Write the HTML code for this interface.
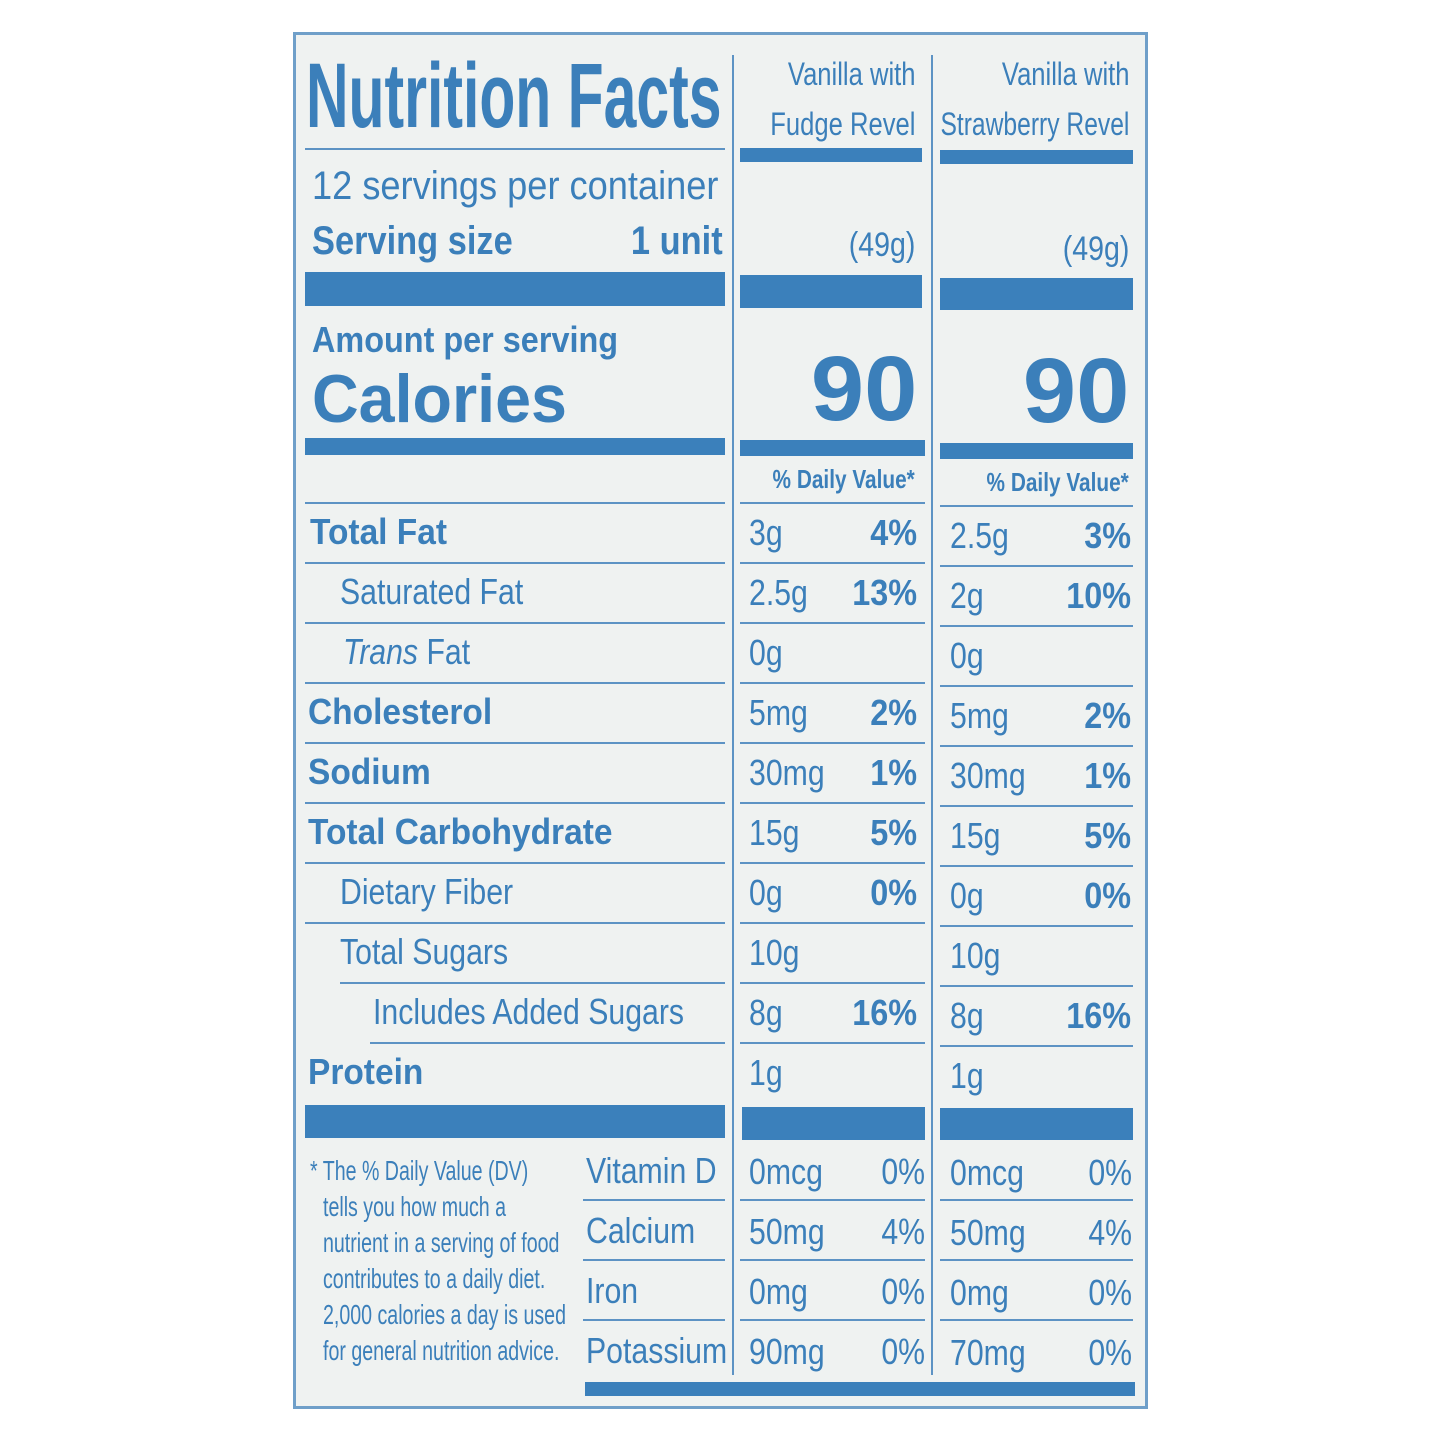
<!DOCTYPE html>
<html><head><meta charset="utf-8"><style>
body{margin:0;width:1445px;height:1445px;background:#fff;position:relative;overflow:hidden;font-family:"Liberation Sans",sans-serif;color:#3b7fba}
.panel{position:absolute;left:293px;top:32px;width:855px;height:1377px;background:#eff2f1;border:3px solid #6f9fc9;box-sizing:border-box}
.t{position:absolute;white-space:nowrap;line-height:1;transform-origin:left center}
.r{position:absolute;white-space:nowrap;line-height:1;transform-origin:right center;text-align:right}
.b{font-weight:bold}
.bar{position:absolute;background:#3b80bb}
.ln{position:absolute;background:#5d93c4;height:2px}
.vl{position:absolute;background:#5d93c4;width:2px}
</style></head><body>
<div class="panel"></div>
<div class="vl" style="left:732px;top:55px;height:1320px"></div>
<div class="vl" style="left:931px;top:55px;height:1320px"></div>
<div class="t b" style="left:306px;top:50px;font-size:92px;transform:scaleX(0.64)">Nutrition Facts</div>
<div class="ln" style="left:305px;top:148px;width:420px"></div>
<div class="t" style="left:312px;top:166px;font-size:40px;transform:scaleX(0.905)">12 servings per container</div>
<div class="t b" style="left:312px;top:221px;font-size:40px;transform:scaleX(0.86)">Serving size</div>
<div class="r b" style="right:722px;top:221px;font-size:40px;transform:scaleX(0.86)">1 unit</div>
<div class="bar" style="left:305px;top:272px;width:420px;height:34px"></div>
<div class="t b" style="left:312px;top:322px;font-size:36px;transform:scaleX(0.9)">Amount per serving</div>
<div class="t b" style="left:312px;top:365px;font-size:68px;transform:scaleX(0.95)">Calories</div>
<div class="bar" style="left:305px;top:438px;width:420px;height:17px"></div>
<div class="r" style="right:530px;top:58px;font-size:32px;transform:scaleX(0.8)">Vanilla with</div>
<div class="r" style="right:530px;top:108px;font-size:32px;transform:scaleX(0.8)">Fudge Revel</div>
<div class="r" style="right:316px;top:58px;font-size:32px;transform:scaleX(0.8)">Vanilla with</div>
<div class="r" style="right:316px;top:108px;font-size:32px;transform:scaleX(0.77)">Strawberry Revel</div>
<div class="bar" style="left:740px;top:148px;width:182px;height:14px"></div>
<div class="bar" style="left:940px;top:150px;width:193px;height:14px"></div>
<div class="r" style="right:530px;top:228px;font-size:34px;transform:scaleX(0.84)">(49g)</div>
<div class="r" style="right:316px;top:232px;font-size:34px;transform:scaleX(0.84)">(49g)</div>
<div class="bar" style="left:740px;top:275px;width:182px;height:33px"></div>
<div class="bar" style="left:940px;top:278px;width:193px;height:32px"></div>
<div class="r b" style="right:528px;top:343px;font-size:92px;transform:scaleX(1.04)">90</div>
<div class="r b" style="right:316px;top:345px;font-size:92px;transform:scaleX(1.04)">90</div>
<div class="bar" style="left:740px;top:440px;width:185px;height:16px"></div>
<div class="bar" style="left:940px;top:443px;width:193px;height:16px"></div>
<div class="r b" style="right:530px;top:466px;font-size:26px;transform:scaleX(0.8)">% Daily Value*</div>
<div class="r b" style="right:316px;top:469px;font-size:26px;transform:scaleX(0.8)">% Daily Value*</div>

<div id="rows"></div>
<script>
var rows=[
["Total Fat",1,310,"3g","4%","2.5g","3%"],
["Saturated Fat",0,340,"2.5g","13%","2g","10%"],
["<i>Trans</i> Fat",0,343,"0g","","0g",""],
["Cholesterol",1,308,"5mg","2%","5mg","2%"],
["Sodium",1,308,"30mg","1%","30mg","1%"],
["Total Carbohydrate",1,308,"15g","5%","15g","5%"],
["Dietary Fiber",0,340,"0g","0%","0g","0%"],
["Total Sugars",0,340,"10g","","10g",""],
["Includes Added Sugars",0,373,"8g","16%","8g","16%"],
["Protein",1,308,"1g","","1g",""]];
var h="";
rows.forEach(function(r,i){
 var c=532+i*60;
 h+='<div class="t'+(r[1]?' b':'')+'" style="left:'+r[2]+'px;top:'+(c-18)+'px;font-size:36px;transform:scaleX('+(r[1]?0.93:0.84)+')">'+r[0]+'</div>';
 h+='<div class="t" style="left:749px;top:'+(c-17)+'px;font-size:36px;transform:scaleX(0.84)">'+r[3]+'</div>';
 h+='<div class="r b" style="right:528px;top:'+(c-17)+'px;font-size:36px;transform:scaleX(0.9)">'+r[4]+'</div>';
 h+='<div class="t" style="left:950px;top:'+(c-14)+'px;font-size:36px;transform:scaleX(0.84)">'+r[5]+'</div>';
 h+='<div class="r b" style="right:314px;top:'+(c-14)+'px;font-size:36px;transform:scaleX(0.9)">'+r[6]+'</div>';
 var ly=c-30;
 var lx=305;
 if(i==8) lx=340;
 if(i==9) lx=370;
 h+='<div class="ln" style="left:'+lx+'px;top:'+ly+'px;width:'+(725-lx)+'px"></div>';
 h+='<div class="ln" style="left:740px;top:'+ly+'px;width:185px"></div>';
 h+='<div class="ln" style="left:940px;top:'+(ly+3)+'px;width:193px"></div>';
});
h+='<div class="bar" style="left:305px;top:1105px;width:420px;height:33px"></div>';
h+='<div class="bar" style="left:742px;top:1107px;width:183px;height:33px"></div>';
h+='<div class="bar" style="left:940px;top:1108px;width:193px;height:32px"></div>';
var v=[["Vitamin D","0mcg","0%","0mcg","0%"],["Calcium","50mg","4%","50mg","4%"],["Iron","0mg","0%","0mg","0%"],["Potassium","90mg","0%","70mg","0%"]];
v.forEach(function(r,i){
 var c=1171+i*60;
 h+='<div class="t" style="left:586px;top:'+(c-18)+'px;font-size:36px;transform:scaleX(0.84)">'+r[0]+'</div>';
 h+='<div class="t" style="left:749px;top:'+(c-17)+'px;font-size:36px;transform:scaleX(0.84)">'+r[1]+'</div>';
 h+='<div class="r" style="right:520px;top:'+(c-17)+'px;font-size:36px;transform:scaleX(0.84)">'+r[2]+'</div>';
 h+='<div class="t" style="left:950px;top:'+(c-16)+'px;font-size:36px;transform:scaleX(0.84)">'+r[3]+'</div>';
 h+='<div class="r" style="right:313px;top:'+(c-16)+'px;font-size:36px;transform:scaleX(0.84)">'+r[4]+'</div>';
 if(i<3){var ly=c+28;
 h+='<div class="ln" style="left:583px;top:'+ly+'px;width:142px"></div>';
 h+='<div class="ln" style="left:740px;top:'+ly+'px;width:185px"></div>';
 h+='<div class="ln" style="left:940px;top:'+ly+'px;width:193px"></div>';}
});
var f=["* The % Daily Value (DV)","tells you how much a","nutrient in a serving of food","contributes to a daily diet.","2,000 calories a day is used","for general nutrition advice."];
f.forEach(function(s,i){
 h+='<div class="t" style="left:'+(i==0?310:323)+'px;top:'+(1157+i*36)+'px;font-size:28px;transform:scaleX(0.7)">'+s+'</div>';
});
h+='<div class="bar" style="left:585px;top:1382px;width:550px;height:14px"></div>';
document.getElementById("rows").innerHTML=h;
</script>
</body></html>
